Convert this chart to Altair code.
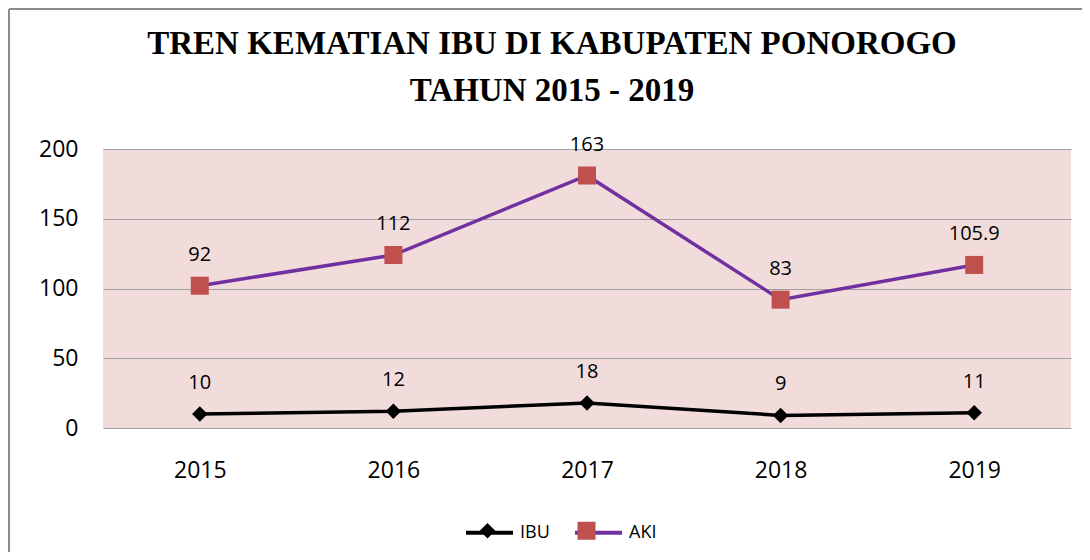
import altair as alt
import pandas as pd

years = ["2015", "2016", "2017", "2018", "2019"]
ibu = [10, 12, 18, 9, 11]
aki = [92, 112, 163, 83, 105.9]
series_names = ["IBU", "AKI"]

rows = []
for i, y in enumerate(years):
    rows.append({"year": y, "series": "IBU", "grp": "IBU", "value": ibu[i], "plot": ibu[i]})
    rows.append({"year": y, "series": "AKI", "grp": "AKI", "value": aki[i], "plot": ibu[i] + aki[i]})
df = pd.DataFrame(rows)

FONT = "Open Sans"
X = alt.X("year:O", title=None,
          scale=alt.Scale(type="point", padding=0.5),
          axis=alt.Axis(labelAngle=0, labelFontSize=23, labelFont=FONT, labelColor="#000000",
                        labelPadding=31, domain=False, ticks=False, grid=False))
Y = alt.Y("plot:Q", title=None,
          scale=alt.Scale(domain=[0, 200], nice=False),
          axis=alt.Axis(values=[0, 50, 100, 150, 200], labelFontSize=23, labelFont=FONT,
                        labelColor="#000000", labelPadding=25, domain=False, ticks=False,
                        grid=True, gridColor="#a0a0a0", gridWidth=1.2))

base = alt.Chart(df)

LX, LY = 361, 358

line = base.mark_line(strokeWidth=3.5).encode(
    x=X, y=Y,
    stroke=alt.Stroke("grp:N",
                      scale=alt.Scale(domain=series_names, range=["#000000", "#7030A0"]),
                      legend=alt.Legend(title=None, orient="none", legendX=LX, legendY=LY,
                                        direction="horizontal", columns=2, symbolType="stroke",
                                        symbolSize=2209, symbolStrokeWidth=4, labelFontSize=18,
                                        labelFont=FONT, labelColor="#000000", labelOffset=5,
                                        columnPadding=17, padding=0)),
)

sq = "M-0.383,-0.383H0.383V0.383H-0.383Z"
dm = "M0,-0.33L0.33,0L0,0.33L-0.33,0Z"
pt_legend = alt.Legend(title=None, orient="none", legendX=LX, legendY=LY,
                       direction="horizontal", columns=2,
                       symbolSize=2209, labelFontSize=18, labelFont=FONT,
                       labelOpacity=0, labelOffset=5, columnPadding=17, padding=0,
                       symbolStrokeWidth=0)
points = base.mark_point(filled=True, opacity=1, size=2209, strokeWidth=0).encode(
    x=X, y=Y,
    color=alt.Color("series:N", sort="descending",
                    scale=alt.Scale(range=["#000000", "#C0504D"]), legend=pt_legend),
    shape=alt.Shape("series:N", sort="descending",
                    scale=alt.Scale(range=[dm, sq]), legend=pt_legend),
)

labels = base.mark_text(dy=-31, fontSize=20, font=FONT, color="#000000").encode(
    x=X, y=Y, text=alt.Text("value:Q"),
)

frame_left = alt.Chart(pd.DataFrame({"k": [0]})).mark_rule(color="#8c8c8c", strokeWidth=2).encode(
    x=alt.value(-94), y=alt.value(-140), y2=alt.value(420))
frame_top = alt.Chart(pd.DataFrame({"k": [0]})).mark_rule(color="#8c8c8c", strokeWidth=2).encode(
    x=alt.value(-94), x2=alt.value(990), y=alt.value(-140))

chart = alt.layer(frame_left, frame_top, line, points, labels).properties(
    width=968, height=279,
    title=alt.TitleParams(["TREN KEMATIAN IBU DI KABUPATEN PONOROGO", "TAHUN 2015 - 2019"],
                          font="Liberation Serif", fontSize=33, fontWeight="bold",
                          color="#000000", anchor="middle", dx=-35, lineHeight=47, offset=-100),
    autosize=alt.AutoSizeParams(type="none"),
    padding={"left": 95, "top": 141, "right": 11, "bottom": 124},
).configure_view(fill="#F2DCDB", stroke=None)

chart.save("out.html", embed_options={"renderer": "svg", "actions": False})
